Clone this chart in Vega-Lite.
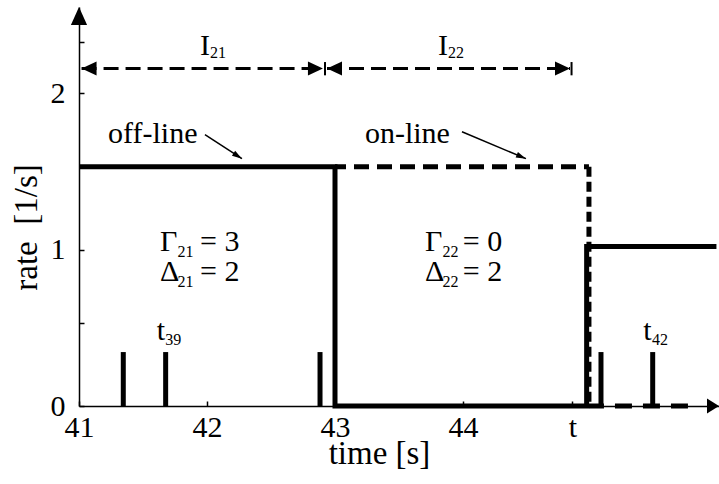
{
  "$schema": "https://vega.github.io/schema/vega-lite/v6.json",
  "width": 640,
  "height": 399,
  "autosize": "none",
  "padding": {"left": 79, "top": 7, "right": 0, "bottom": 78},
  "background": "white",
  "config": {
    "view": {"stroke": null},
    "font": "Liberation Serif",
    "axis": {"grid": false, "labelFont": "Liberation Serif", "titleFont": "Liberation Serif", "labelColor": "black", "titleColor": "black", "titleFontWeight": "normal", "domainColor": "black", "domainWidth": 1.5, "tickColor": "black", "tickWidth": 1.5}
  },
  "datasets": {
    "offline": [
      {"i": 0, "t": 41.0, "rate": 1.53},
      {"i": 1, "t": 43.0, "rate": 1.53},
      {"i": 2, "t": 43.0, "rate": 0},
      {"i": 3, "t": 44.966, "rate": 0},
      {"i": 4, "t": 44.966, "rate": 1.02},
      {"i": 5, "t": 45.98, "rate": 1.02}
    ],
    "online": [
      {"part": "top", "t": 43.0, "t2": 44.984, "rate": 1.53, "rate2": 1.53},
      {"part": "drop", "t": 44.984, "t2": 44.984, "rate": 1.53, "rate2": 0},
      {"part": "low", "t": 44.984, "t2": 45.77, "rate": 0, "rate2": 0}
    ],
    "spikes": [
      {"t": 41.346, "h": 0.345, "base": 0},
      {"t": 41.677, "h": 0.345, "base": 0},
      {"t": 42.883, "h": 0.345, "base": 0},
      {"t": 45.078, "h": 0.345, "base": 0},
      {"t": 45.482, "h": 0.345, "base": 0}
    ],
    "intervals": [
      {"name": "I21", "from": 41.02, "to": 42.906, "level": 2.159},
      {"name": "I22", "from": 42.9375, "to": 44.836, "level": 2.159}
    ],
    "bounds": [
      {"t": 42.922, "lo": 2.115, "hi": 2.2},
      {"t": 44.848, "lo": 2.115, "hi": 2.2}
    ],
    "leaders": [
      {"name": "off-line", "t": 41.984, "rate": 1.735, "t2": 42.273, "rate2": 1.582},
      {"name": "on-line", "t": 43.992, "rate": 1.754, "t2": 44.492, "rate2": 1.582}
    ],
    "labels": [
      {"kind": "main", "t": 41.945, "rate": 2.245, "text": "I"},
      {"kind": "sub", "t": 42.023, "rate": 2.223, "text": "21"},
      {"kind": "main", "t": 43.805, "rate": 2.245, "text": "I"},
      {"kind": "sub", "t": 43.883, "rate": 2.223, "text": "22"},
      {"kind": "main", "t": 41.227, "rate": 1.682, "text": "off-line"},
      {"kind": "main", "t": 43.234, "rate": 1.682, "text": "on-line"},
      {"kind": "main", "t": 41.633, "rate": 0.991, "text": "Γ"},
      {"kind": "sub", "t": 41.77, "rate": 0.953, "text": "21"},
      {"kind": "main", "t": 41.945, "rate": 0.991, "text": "= 3"},
      {"kind": "main", "t": 41.633, "rate": 0.8, "text": "Δ"},
      {"kind": "sub", "t": 41.77, "rate": 0.761, "text": "21"},
      {"kind": "main", "t": 41.945, "rate": 0.8, "text": "= 2"},
      {"kind": "main", "t": 43.703, "rate": 0.991, "text": "Γ"},
      {"kind": "sub", "t": 43.84, "rate": 0.953, "text": "22"},
      {"kind": "main", "t": 43.998, "rate": 0.991, "text": "= 0"},
      {"kind": "main", "t": 43.703, "rate": 0.8, "text": "Δ"},
      {"kind": "sub", "t": 43.84, "rate": 0.761, "text": "22"},
      {"kind": "main", "t": 43.998, "rate": 0.8, "text": "= 2"},
      {"kind": "main", "t": 41.607, "rate": 0.422, "text": "t"},
      {"kind": "sub", "t": 41.674, "rate": 0.39, "text": "39"},
      {"kind": "main", "t": 45.409, "rate": 0.422, "text": "t"},
      {"kind": "sub", "t": 45.476, "rate": 0.39, "text": "42"}
    ],
    "axisEnds": [
      {"axis": "y", "t": 41.0, "rate": 2.552},
      {"axis": "x", "t": 46.0, "rate": 0}
    ]
  },
  "layer": [
    {
      "data": {"name": "offline"},
      "mark": {"type": "line", "color": "black", "strokeWidth": 5, "strokeJoin": "miter", "strokeCap": "butt"},
      "encoding": {
        "x": {
          "field": "t", "type": "quantitative",
          "scale": {"domain": [41, 46], "nice": false, "zero": false},
          "axis": {
            "title": "time [s]",
            "values": [41, 42, 43, 44, 44.855],
            "format": ".0f",
            "labelExpr": "datum.value == 44.855 ? 't' : datum.label",
            "tickSize": -5,
            "labelFontSize": 30,
            "labelPadding": 11,
            "labelDx": 3,
            "labelFlush": false,
            "labelOverlap": false,
            "titleFontSize": 33,
            "titleX": 300,
            "titleY": 57,
            "titleBaseline": "alphabetic",
            "titleAlign": "center"
          }
        },
        "y": {
          "field": "rate", "type": "quantitative",
          "scale": {"domain": [0, 2.552], "nice": false, "zero": true},
          "axis": {
            "title": "rate\u00a0\u00a0[1/s]",
            "values": [0, 0.53, 1, 2, 2.33],
            "format": ".0f",
            "labelExpr": "(datum.value == 0 || datum.value == 1 || datum.value == 2) ? datum.label : ''",
            "tickSize": -5,
            "labelFontSize": 30,
            "labelPadding": 19,
            "labelFlush": false,
            "labelOverlap": false,
            "titleFontSize": 33,
            "titleAngle": -90,
            "titleX": -43,
            "titleY": 220,
            "titleBaseline": "alphabetic",
            "titleAlign": "center"
          }
        },
        "order": {"field": "i", "type": "quantitative"}
      }
    },
    {
      "data": {"name": "online"},
      "transform": [{"filter": "datum.part == 'top'"}],
      "mark": {"type": "rule", "color": "black", "strokeWidth": 5, "strokeDash": [15, 8], "strokeDashOffset": 4},
      "encoding": {
        "x": {"field": "t", "type": "quantitative"},
        "x2": {"field": "t2"},
        "y": {"field": "rate", "type": "quantitative"},
        "y2": {"field": "rate2"}
      }
    },
    {
      "data": {"name": "online"},
      "transform": [{"filter": "datum.part == 'drop'"}],
      "mark": {"type": "rule", "color": "black", "strokeWidth": 5, "strokeDash": [10, 5]},
      "encoding": {
        "x": {"field": "t", "type": "quantitative"},
        "x2": {"field": "t2"},
        "y": {"field": "rate", "type": "quantitative"},
        "y2": {"field": "rate2"}
      }
    },
    {
      "data": {"name": "online"},
      "transform": [{"filter": "datum.part == 'low'"}],
      "mark": {"type": "rule", "color": "black", "strokeWidth": 5, "strokeDash": [17, 11], "strokeDashOffset": 2},
      "encoding": {
        "x": {"field": "t", "type": "quantitative"},
        "x2": {"field": "t2"},
        "y": {"field": "rate", "type": "quantitative"},
        "y2": {"field": "rate2"}
      }
    },
    {
      "data": {"name": "spikes"},
      "mark": {"type": "rule", "color": "black", "strokeWidth": 5},
      "encoding": {
        "x": {"field": "t", "type": "quantitative"},
        "x2": {"field": "t"},
        "y": {"field": "base", "type": "quantitative"},
        "y2": {"field": "h"}
      }
    },
    {
      "data": {"name": "intervals"},
      "mark": {"type": "rule", "color": "black", "strokeWidth": 3, "strokeDash": [15, 7]},
      "encoding": {
        "x": {"field": "from", "type": "quantitative"},
        "x2": {"field": "to"},
        "y": {"field": "level", "type": "quantitative"},
        "y2": {"field": "level"}
      }
    },
    {
      "data": {"name": "intervals"},
      "mark": {"type": "point", "filled": true, "color": "black", "opacity": 1, "shape": "M0,0L2,-0.93L2,0.93Z", "size": 225},
      "encoding": {
        "x": {"field": "from", "type": "quantitative"},
        "y": {"field": "level", "type": "quantitative"}
      }
    },
    {
      "data": {"name": "intervals"},
      "mark": {"type": "point", "filled": true, "color": "black", "opacity": 1, "shape": "M0,0L-2,-0.93L-2,0.93Z", "size": 225},
      "encoding": {
        "x": {"field": "to", "type": "quantitative"},
        "y": {"field": "level", "type": "quantitative"}
      }
    },
    {
      "data": {"name": "bounds"},
      "mark": {"type": "rule", "color": "black", "strokeWidth": 2},
      "encoding": {
        "x": {"field": "t", "type": "quantitative"},
        "x2": {"field": "t"},
        "y": {"field": "lo", "type": "quantitative"},
        "y2": {"field": "hi"}
      }
    },
    {
      "data": {"name": "leaders"},
      "mark": {"type": "rule", "color": "black", "strokeWidth": 1.5},
      "encoding": {
        "x": {"field": "t", "type": "quantitative"},
        "x2": {"field": "t2"},
        "y": {"field": "rate", "type": "quantitative"},
        "y2": {"field": "rate2"}
      }
    },
    {
      "data": {"name": "leaders"},
      "transform": [{"filter": "datum.name == 'off-line'"}],
      "mark": {"type": "point", "filled": true, "color": "black", "opacity": 1, "shape": "M0,0L-2,-0.6L-2,0.6Z", "size": 100, "angle": 33},
      "encoding": {
        "x": {"field": "t2", "type": "quantitative"},
        "y": {"field": "rate2", "type": "quantitative"}
      }
    },
    {
      "data": {"name": "leaders"},
      "transform": [{"filter": "datum.name == 'on-line'"}],
      "mark": {"type": "point", "filled": true, "color": "black", "opacity": 1, "shape": "M0,0L-2,-0.6L-2,0.6Z", "size": 100, "angle": 23},
      "encoding": {
        "x": {"field": "t2", "type": "quantitative"},
        "y": {"field": "rate2", "type": "quantitative"}
      }
    },
    {
      "data": {"name": "axisEnds"},
      "transform": [{"filter": "datum.axis == 'y'"}],
      "mark": {"type": "point", "filled": true, "color": "black", "opacity": 1, "shape": "M0,0L0.9,2L-0.9,2Z", "size": 324},
      "encoding": {
        "x": {"field": "t", "type": "quantitative"},
        "y": {"field": "rate", "type": "quantitative"}
      }
    },
    {
      "data": {"name": "axisEnds"},
      "transform": [{"filter": "datum.axis == 'x'"}],
      "mark": {"type": "point", "filled": true, "color": "black", "opacity": 1, "shape": "M0,0L-2,-1.25L-2,1.25Z", "size": 144},
      "encoding": {
        "x": {"field": "t", "type": "quantitative"},
        "y": {"field": "rate", "type": "quantitative"}
      }
    },
    {
      "data": {"name": "labels"},
      "transform": [{"filter": "datum.kind == 'main'"}],
      "mark": {"type": "text", "align": "left", "baseline": "alphabetic", "font": "Liberation Serif", "fontSize": 30, "color": "black"},
      "encoding": {
        "x": {"field": "t", "type": "quantitative"},
        "y": {"field": "rate", "type": "quantitative"},
        "text": {"field": "text"}
      }
    },
    {
      "data": {"name": "labels"},
      "transform": [{"filter": "datum.kind == 'sub'"}],
      "mark": {"type": "text", "align": "left", "baseline": "alphabetic", "font": "Liberation Serif", "fontSize": 16, "color": "black"},
      "encoding": {
        "x": {"field": "t", "type": "quantitative"},
        "y": {"field": "rate", "type": "quantitative"},
        "text": {"field": "text"}
      }
    }
  ]
}
